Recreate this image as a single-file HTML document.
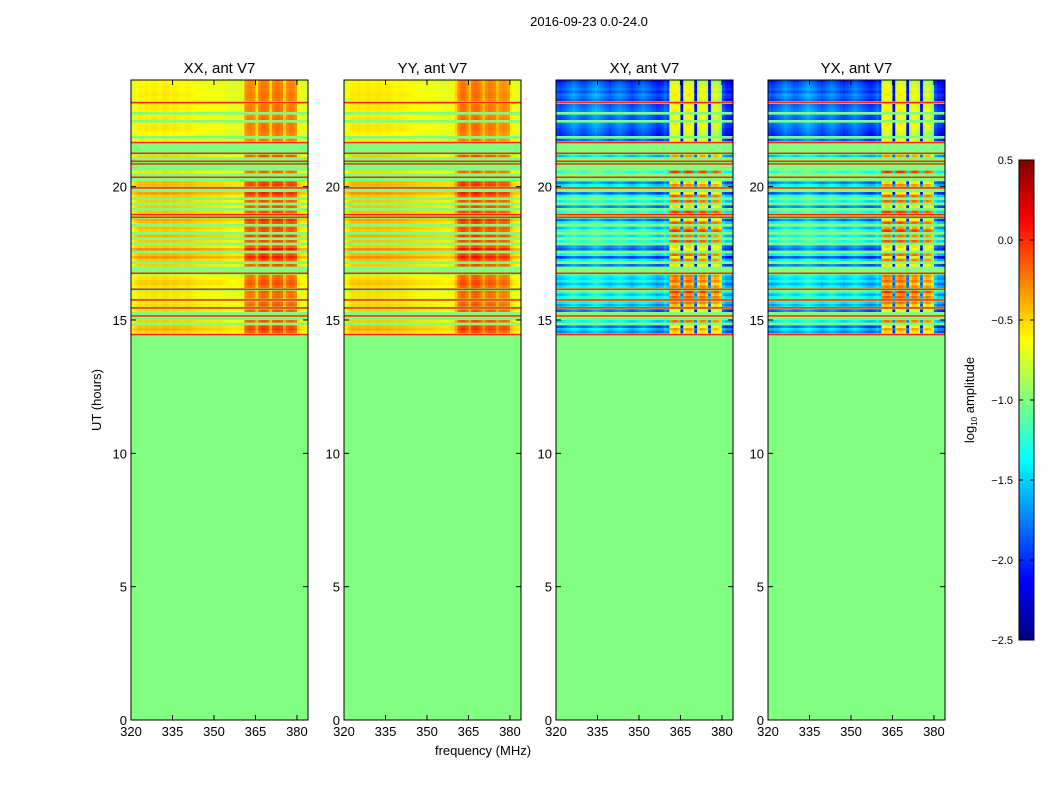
<!DOCTYPE html>
<html><head><meta charset="utf-8">
<style>
html,body{margin:0;padding:0;background:#fff;}
body{width:1050px;height:800px;overflow:hidden;font-family:"Liberation Sans","DejaVu Sans",sans-serif;}
svg text{font-family:"Liberation Sans","DejaVu Sans",sans-serif;}
</style></head>
<body>
<svg id="fig" width="1050" height="800" viewBox="0 0 1050 800" xmlns="http://www.w3.org/2000/svg">
<text x="589" y="26" font-size="13" text-anchor="middle">2016-09-23 0.0-24.0</text>
<text x="0" y="0" font-size="13" text-anchor="middle" transform="translate(101,400) rotate(-90)">UT (hours)</text>
<text x="483" y="755" font-size="13" text-anchor="middle">frequency (MHz)</text>
<g id="panels"></g>
<g id="cbar"></g>
</svg>
<script>
// ---- data ----
const panelTitles = ["XX, ant V7","YY, ant V7","XY, ant V7","YX, ant V7"];
const xTicks = [320,335,350,365,380];
const yTicks = [0,5,10,15,20];
const cbarTicks = [-2.5,-2.0,-1.5,-1.0,-0.5,0.0,0.5];
const freqStart = 320, freqEnd = 384, freqStep = 1;
const timeTop = 24.0, rowStep = 0.1, flagBelow = 14.4;
const flagValue = -1.0, redValue = 0.0;
// row types from 24h downward: d=data, f=flagged, R=flagged with saturated line
const rowTypes = ["d","d","d","d","d","d","d","d","R","d","d","d","f","d","d","f","d","d","d","d","d","f","d","R",
"f","f","f","R","d","f","R","R","f","f","d","f","R","f","d","d","R","f","d","d","f","d","f","d",
"f","d","R","R","d","d","f","d","d","f","d","f","d","f","d","d","f","d","d","d","f","d","f","f",
"R","d","d","d","d","d","R","d","d","d","R","d","d","R","d","f","R","f","d","f","d","d","d","R"];
const levelXX = [-0.64,-0.62,-0.6,-0.62,-0.6,-0.58,-0.6,-0.62,0,-0.6,-0.58,-0.6,0,-0.62,-0.58,0,-0.6,-0.59,-0.58,-0.62,-0.64,0,-0.62,0,
0,0,0,0,-0.5,0,0,0,0,0,-0.55,0,0,0,-0.45,-0.42,0,0,-0.35,-0.48,0,-0.5,0,-0.48,
0,-0.48,0,0,-0.38,-0.48,0,-0.45,-0.5,0,-0.42,0,-0.48,0,-0.5,-0.3,0,-0.45,-0.32,-0.48,0,-0.5,0,0,
0,-0.58,-0.55,-0.5,-0.48,-0.56,0,-0.55,-0.58,-0.56,0,-0.56,-0.52,0,-0.52,0,0,0,-0.5,0,-0.45,-0.42,-0.5,0];
const levelXY = [-2.1,-2.0,-1.95,-1.9,-2.0,-1.85,-1.9,-2.0,0,-1.95,-1.9,-1.85,0,-1.9,-1.95,0,-1.85,-1.9,-1.95,-2.0,-2.05,0,-1.9,0,
0,0,0,0,-1.6,0,0,0,0,0,-1.3,0,0,0,-1.8,-1.55,0,0,-1.9,-1.4,0,-1.45,0,-1.8,
0,-1.35,0,0,-1.85,-1.4,0,-1.6,-1.3,0,-1.5,0,-1.4,0,-1.8,-1.9,0,-1.45,-2.0,-1.5,0,-1.85,0,0,
0,-1.5,-1.6,-1.45,-1.7,-1.5,0,-1.3,-1.6,-1.4,0,-1.5,-1.7,0,-1.9,0,0,0,-1.5,0,-1.9,-1.6,-1.8,0];
// per-frequency offsets (320..383 MHz)
const colOffXX = [-0.12,-0.06,0,0.02,0,0.03,0,0.02,0.04,0.02,0,0.03,0.05,0.02,0,0.03,0.02,0,-0.02,0,
0.02,0,-0.02,-0.03,-0.05,-0.04,-0.05,-0.06,-0.05,-0.06,-0.07,-0.05,-0.06,-0.08,-0.1,-0.1,-0.12,-0.12,-0.1,-0.1,
-0.12,0.3,0.35,0.35,0.3,0.08,0.35,0.4,0.4,0.35,0.08,0.35,0.4,0.4,0.35,0.08,0.32,0.38,0.35,0.3,-0.05,-0.1,-0.1,-0.12];
const colOffYY = [-0.1,-0.05,0.02,0.04,0.03,0.05,0.02,0.03,0.05,0.04,0.02,0.04,0.05,0.03,0.02,0.04,0.03,0.02,0,0.01,
0.02,0.01,0,-0.01,-0.02,-0.03,-0.04,-0.04,-0.05,-0.05,-0.06,-0.05,-0.06,-0.07,-0.08,-0.08,-0.1,-0.1,-0.08,-0.06,
0.1,0.33,0.4,0.4,0.33,0.18,0.4,0.42,0.4,0.33,0.18,0.33,0.38,0.36,0.33,0.18,0.3,0.33,0.3,0.28,0,-0.08,-0.1,-0.12];
const colOffXY = [0.05,0,0.05,0.1,0.15,0.2,0.25,0.2,0.15,0.1,0.1,0.15,0.2,0.25,0.3,0.25,0.2,0.15,0.1,0.05,
0.1,0.15,0.2,0.2,0.15,0.1,0.05,0,0.05,0.1,0.15,0.2,0.15,0.1,0.05,0,-0.05,-0.05,0,0.1,
0,1.2,1.3,1.3,1.2,-0.2,1.2,1.3,1.3,1.2,-0.2,1.1,1.25,1.25,1.1,-0.2,1.1,1.2,1.15,1.0,0.05,-0.1,-0.1,-0.15];
const panelLevels = [levelXX, levelXX, levelXY, levelXY];
const panelCols = [colOffXX, colOffYY, colOffXY, colOffXY];
const vmin = -2.5, vmax = 0.5;

// ---- layout ----
const panelX = [131,344,556,768], panelW = 177, plotTop = 80, plotBot = 720;
const NS = "http://www.w3.org/2000/svg";
function jet(v){
  let t=(v-vmin)/(vmax-vmin); t=Math.max(0,Math.min(1,t));
  const c=x=>Math.round(255*Math.max(0,Math.min(1,x)));
  return `rgb(${c(1.5-Math.abs(4*t-3))},${c(1.5-Math.abs(4*t-2))},${c(1.5-Math.abs(4*t-1))})`;
}
function yScale(h){return plotBot-(h/24)*(plotBot-plotTop);}
function mk(tag,attrs,parent){const e=document.createElementNS(NS,tag);for(const k in attrs)e.setAttribute(k,attrs[k]);parent.appendChild(e);return e;}
const panels=document.getElementById('panels');
panelTitles.forEach((title,p)=>{
  const x0=panelX[p];
  const xScale=f=>x0+(f-freqStart)/(freqEnd-freqStart)*panelW;
  const g=mk('g',{},panels);
  
  
  const fr=mk('rect',{x:x0,y:yScale(flagBelow),width:panelW,height:yScale(0)-yScale(flagBelow),fill:jet(flagValue)},g);
  
  
  const lv=panelLevels[p], co=panelCols[p];
  rowTypes.forEach((t,r)=>{
    const hTop=timeTop-r*rowStep, hBot=hTop-rowStep;
    const y=yScale(hTop), h=yScale(hBot)-y+0.3;
    if(t!=='d'){
      const rr=mk('rect',{x:x0,y:y,width:panelW,height:h,fill:jet(flagValue)},g);
      
      
      if(t==='R'){
        const rl=mk('rect',{x:x0,y:y+0.5,width:panelW,height:1.5,fill:jet(redValue)},g);
        
        
      }
      return;
    }
    co.forEach((off,c)=>{
      const f=freqStart+c*freqStep;
      const xa=xScale(f), xb=xScale(f+freqStep);
      const cell=mk('rect',{x:xa,y:y,width:xb-xa+0.3,height:h,fill:jet(lv[r]+off)},g);
      
      
    });
  });
  const fm=mk('rect',{x:x0,y:plotTop,width:panelW,height:plotBot-plotTop,fill:'none',stroke:'#000','stroke-width':1},g);
  
  
  const tt=mk('text',{x:x0+panelW/2,y:73,'font-size':15,'text-anchor':'middle'},g);tt.textContent=title;
  
  
  xTicks.forEach(f=>{
    const x=xScale(f);
    mk('line',{x1:x,x2:x,y1:plotBot,y2:plotBot-5,stroke:'#000'},g);
    mk('line',{x1:x,x2:x,y1:plotTop,y2:plotTop+5,stroke:'#000'},g);
    const tl=mk('text',{x:x,y:plotBot+16,'font-size':13,'text-anchor':'middle'},g);tl.textContent=f;
    
    
  });
  yTicks.forEach(h=>{
    const y=yScale(h);
    mk('line',{x1:x0,x2:x0+5,y1:y,y2:y,stroke:'#000'},g);
    mk('line',{x1:x0+panelW,x2:x0+panelW-5,y1:y,y2:y,stroke:'#000'},g);
    const tl=mk('text',{x:x0-4,y:y+5,'font-size':13,'text-anchor':'end'},g);tl.textContent=h;
    
    
  });
});
// colorbar
const cb=document.getElementById('cbar');


const cbX=1019,cbW=15,cbTop=160,cbBot=640;
const cbY=v=>cbBot-(v-vmin)/(vmax-vmin)*(cbBot-cbTop);
for(let i=0;i<120;i++){
  const v0=vmin+i*(vmax-vmin)/120, v1=v0+(vmax-vmin)/120;
  mk('rect',{x:cbX,y:cbY(v1),width:cbW,height:cbY(v0)-cbY(v1)+0.5,fill:jet((v0+v1)/2)},cb);
}
mk('rect',{x:cbX,y:cbTop,width:cbW,height:cbBot-cbTop,fill:'none',stroke:'#000'},cb);
cbarTicks.forEach(v=>{
  const y=cbY(v);
  mk('line',{x1:cbX,x2:cbX+4,y1:y,y2:y,stroke:'#000'},cb);
  mk('line',{x1:cbX+cbW,x2:cbX+cbW-4,y1:y,y2:y,stroke:'#000'},cb);
  const tl=mk('text',{x:1013,y:y+4,'font-size':11,'text-anchor':'end'},cb);tl.textContent=(v<0?'\u2212':'')+Math.abs(v).toFixed(1);
  
  
});
const cl=mk('text',{x:0,y:0,'font-size':13,'text-anchor':'middle',transform:'translate(974,400) rotate(-90)'},cb);
cl.innerHTML='log<tspan font-size="8" dy="3">10</tspan><tspan dy="-3"> amplitude</tspan>';


</script>
</body></html>
